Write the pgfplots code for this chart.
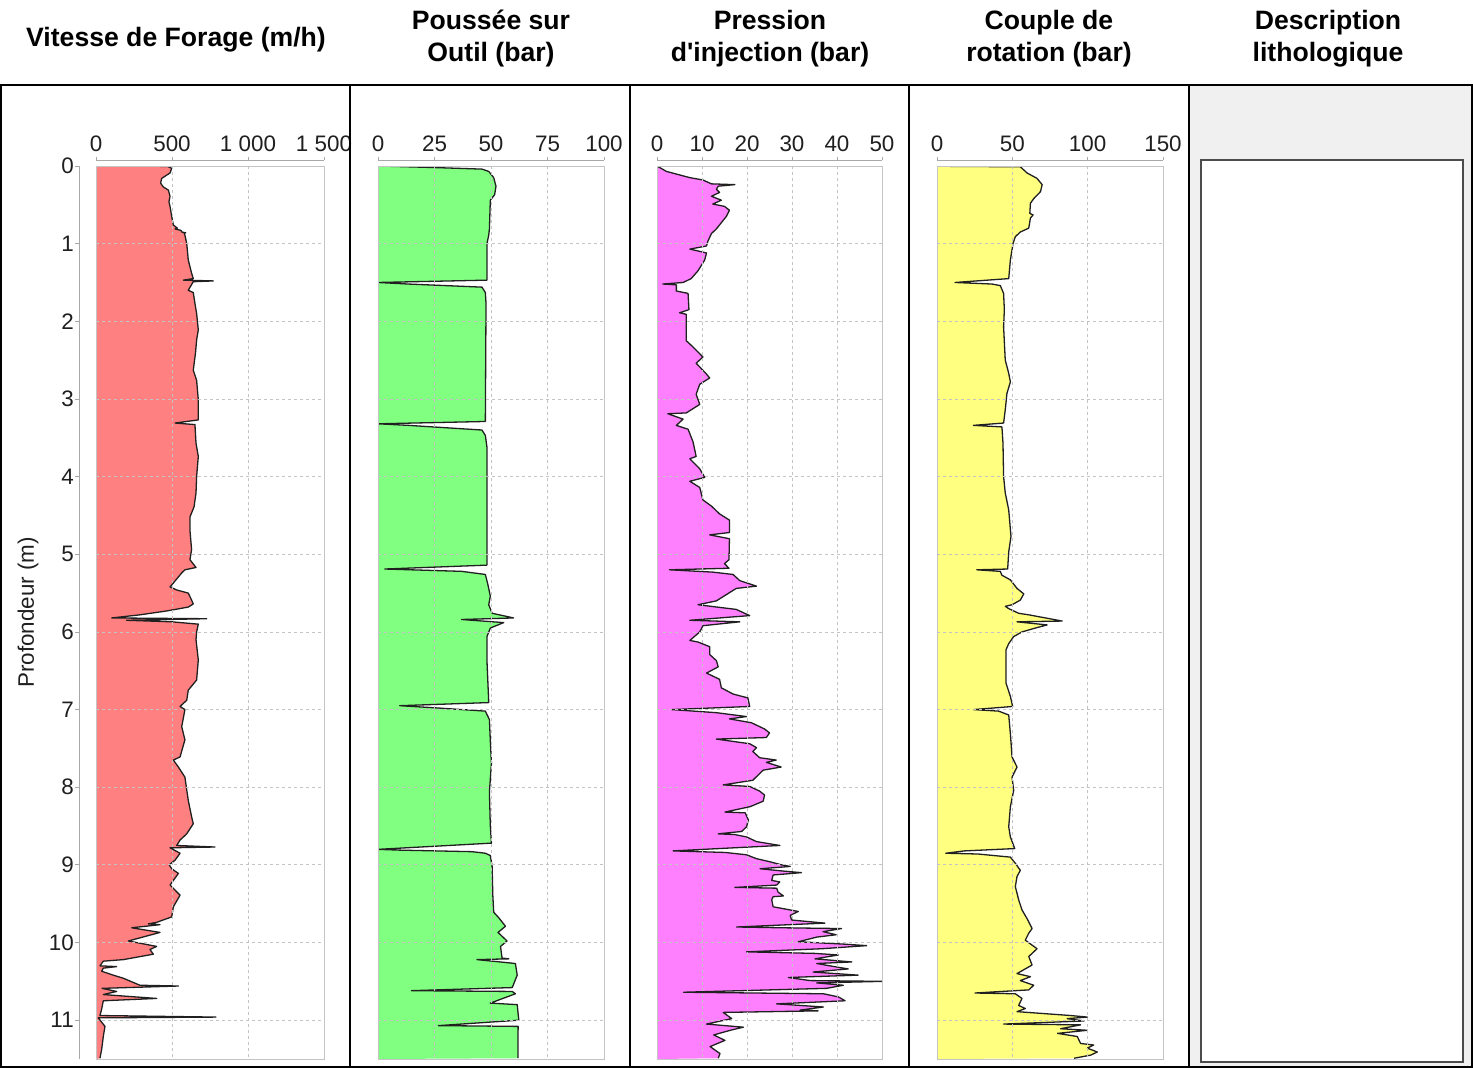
\documentclass[border=0pt]{standalone}
\usepackage{pgfplots}
\pgfplotsset{compat=1.18}
\usepackage{pgfplotstable}
\usepackage{fontspec}
\setmainfont{Liberation Sans}[Ligatures=TeXOff]

\definecolor{vitfill}{HTML}{FF8080}
\definecolor{pousfill}{HTML}{80FF80}
\definecolor{presfill}{HTML}{FF80FF}
\definecolor{coupfill}{HTML}{FFFF80}
\definecolor{gridgray}{HTML}{C4C4C4}
\definecolor{axisgray}{HTML}{A8A8A8}
\definecolor{panelgray}{HTML}{F0F0F0}
\definecolor{curvecol}{HTML}{202020}

\newcommand\titlefont{\fontsize{13.3}{16}\selectfont\bfseries}
\newcommand\ticklabelfont{\fontsize{11.2}{13.4}\selectfont}

% Vitesse de forage (m/h) versus profondeur (m)
\pgfplotstableread{
v d
0 0
470 0.005
476 0.01
498 0.03
487 0.09
432 0.16
425 0.22
443 0.27
476 0.31
487 0.39
480 0.46
487 0.52
498 0.65
509 0.76
535 0.80
520 0.81
560 0.83
564 0.85
590 0.86
580 0.87
585 0.89
597 1.0
607 1.21
629 1.38
640 1.45
575 1.47
772 1.48
640 1.49
607 1.60
640 1.63
651 1.77
662 1.90
673 2.11
662 2.24
655 2.40
640 2.63
662 2.76
673 3.01
673 3.27
520 3.31
651 3.33
658 3.57
673 3.74
662 4.0
658 4.21
645 4.39
618 4.52
618 4.69
629 4.94
618 5.07
658 5.17
585 5.20
564 5.24
509 5.37
487 5.42
531 5.46
607 5.50
629 5.59
640 5.64
607 5.68
465 5.73
289 5.78
103 5.82
728 5.83
200 5.85
500 5.87
673 5.90
662 6.0
658 6.1
673 6.36
662 6.62
607 6.75
597 6.88
553 6.96
585 7.0
564 7.22
585 7.39
553 7.61
509 7.65
542 7.74
585 7.87
607 8.17
629 8.38
640 8.47
597 8.60
553 8.68
531 8.75
783 8.77
487 8.78
553 8.85
520 8.94
482 9.0
498 9.05
542 9.11
487 9.26
553 9.39
509 9.54
498 9.67
399 9.74
344 9.76
421 9.77
235 9.81
421 9.87
213 9.98
399 10.05
355 10.09
377 10.15
180 10.22
48 10.24
26 10.30
136 10.31
48 10.33
37 10.37
114 10.42
180 10.46
289 10.55
542 10.56
40 10.59
136 10.63
48 10.67
399 10.72
48 10.75
37 10.86
26 10.94
789 10.96
15 10.97
59 11.08
48 11.21
37 11.38
26 11.49
}\vitesse

% Poussee sur outil (bar)
\pgfplotstableread{
v d
0 0
25 0.02
46 0.04
49 0.07
51.2 0.15
52.2 0.26
51.6 0.37
49.7 0.44
49.3 0.81
49.0 0.89
48.2 1.0
48.2 1.47
0 1.50
13.4 1.52
46 1.56
47.5 1.63
47.8 1.77
47.5 3.29
0 3.32
13.4 3.34
46 3.40
47.5 3.47
48.2 3.62
48.2 5.14
3 5.19
37 5.22
47.5 5.26
48.7 5.40
49.7 5.54
49 5.65
50.5 5.76
60 5.82
37 5.84
55.6 5.88
49.7 5.95
48.2 6.06
48.2 6.36
49 6.91
9.6 6.95
26.7 6.98
47.5 7.02
49.3 7.13
49.7 7.4
50.2 7.69
49.3 8.06
49.7 8.5
50.2 8.72
0 8.80
9.6 8.81
41.6 8.83
47.5 8.85
49.7 8.88
50.5 9.02
50.8 9.39
51.2 9.61
53.4 9.68
56.4 9.79
53.1 9.87
57.1 9.98
54.2 10.05
54.9 10.2
57.9 10.21
43.8 10.22
60.8 10.27
61.6 10.42
59.4 10.58
14.8 10.62
59.4 10.63
60.8 10.66
49.7 10.78
61.6 10.80
62.3 11.0
26.7 11.07
62.0 11.08
61.9 11.49
}\poussee

% Pression d'injection (bar)
\pgfplotstableread{
v d
0 0
2.1 0.07
7.3 0.15
10.2 0.18
12.1 0.23
17.3 0.24
13.6 0.26
13.2 0.30
13.9 0.34
12.1 0.39
14.3 0.44
12.4 0.49
15.0 0.52
16.1 0.57
15.4 0.65
14.3 0.73
13.2 0.81
12.1 0.87
11.3 0.97
11.0 1.03
7.3 1.07
11.0 1.12
10.6 1.21
9.1 1.35
7.6 1.45
5.8 1.50
1.3 1.52
4.3 1.53
4.3 1.61
6.9 1.64
7.1 1.85
5.0 1.89
6.5 1.91
6.5 2.25
8.0 2.33
10.2 2.46
8.7 2.54
11.0 2.68
11.7 2.73
9.5 2.81
8.7 2.94
9.5 3.07
6.5 3.18
2.4 3.19
5.8 3.26
4.3 3.34
6.9 3.39
8.0 3.55
8.7 3.74
7.3 3.77
9.5 3.90
10.6 4.01
7.3 4.06
9.5 4.14
10.2 4.30
12.1 4.38
13.9 4.48
16.1 4.56
16.1 4.72
11.7 4.75
16.1 4.80
16.0 5.07
15.0 5.12
16.0 5.18
2.8 5.20
12.4 5.23
16.9 5.26
18.4 5.34
22.1 5.41
17.6 5.44
15.4 5.52
13.2 5.60
9.1 5.65
17.6 5.71
20.6 5.79
16.1 5.81
7.3 5.85
18.4 5.87
10.2 5.92
9.5 6.00
7.3 6.11
9.1 6.13
11.7 6.19
11.7 6.29
13.2 6.37
13.6 6.45
11.0 6.53
13.9 6.61
14.3 6.72
16.9 6.80
20.2 6.85
20.6 6.96
3.2 7.00
13.2 7.04
19.9 7.09
16.1 7.12
21.0 7.17
23.9 7.25
25.0 7.30
24.3 7.36
13.2 7.38
20.6 7.44
22.1 7.49
21.3 7.54
22.8 7.62
26.5 7.65
24.3 7.68
27.6 7.74
23.6 7.78
21.3 7.91
14.7 7.97
20.6 7.99
22.8 8.05
23.9 8.10
23.6 8.18
20.7 8.25
15.1 8.32
19.6 8.33
20.3 8.42
19.9 8.51
18.8 8.57
13.6 8.60
17.3 8.61
19.9 8.64
22.1 8.70
27.3 8.75
3.6 8.82
15.1 8.84
19.9 8.87
22.1 8.92
25.1 8.96
27.7 9.00
29.6 9.02
22.9 9.05
28.1 9.08
32.1 9.10
25.8 9.13
25.5 9.20
27.3 9.22
26.6 9.26
17.3 9.29
26.6 9.30
26.9 9.35
28.1 9.40
25.8 9.41
25.5 9.45
25.8 9.54
27.7 9.56
31.4 9.60
29.6 9.65
29.9 9.71
37.3 9.75
17.7 9.80
27.7 9.81
41.0 9.82
36.9 9.86
39.8 9.90
35.5 9.93
31.4 9.99
41.4 10.02
46.6 10.04
36.6 10.08
19.9 10.12
35.1 10.14
40.3 10.16
35.1 10.21
39.2 10.23
43.3 10.25
35.5 10.27
38.4 10.30
42.5 10.34
34.7 10.38
44.7 10.42
29.2 10.45
34.0 10.49
50.3 10.50
35.5 10.52
41.4 10.55
37.7 10.59
5.9 10.64
37.0 10.66
40.3 10.70
41.8 10.75
26.6 10.79
37.0 10.83
31.8 10.87
35.8 10.88
14.7 10.90
16.6 10.98
11.0 11.05
19.2 11.09
16.3 11.13
12.6 11.19
15.1 11.26
11.8 11.34
14.0 11.43
13.6 11.49
}\pression

% Couple de rotation (bar)
\pgfplotstableread{
v d
0 0
9.8 0.005
55.3 0.01
59.8 0.09
66.4 0.16
69.8 0.24
68.7 0.33
64.2 0.42
62.0 0.48
61.6 0.61
63.8 0.63
62.0 0.67
60.9 0.80
55.3 0.85
52.0 0.91
50.4 1.0
49.8 1.08
48.7 1.21
47.6 1.45
12.0 1.50
36.4 1.52
42.0 1.54
44.2 1.64
44.7 1.85
44.2 2.07
45.3 2.50
47.6 2.67
48.7 2.78
46.4 2.93
45.3 3.14
44.2 3.31
24.2 3.34
43.1 3.36
43.8 3.57
44.2 4.0
45.3 4.21
47.6 4.43
49.1 4.77
47.6 4.97
46.9 5.19
26.4 5.20
42.0 5.22
43.1 5.27
48.7 5.33
53.1 5.44
57.6 5.51
55.3 5.59
49.8 5.65
45.3 5.67
47.6 5.70
54.2 5.76
60.9 5.78
83.1 5.86
53.1 5.87
73.1 5.91
65.3 5.95
56.4 6.00
50.9 6.06
47.6 6.15
45.8 6.23
45.8 6.66
48.7 6.83
50.2 6.96
24.2 7.00
40.9 7.02
47.6 7.07
48.7 7.31
49.8 7.61
53.1 7.74
49.8 7.87
50.9 8.04
48.7 8.25
47.6 8.51
48.7 8.64
51.6 8.79
18.2 8.82
5.8 8.85
27.1 8.86
48.7 8.90
52.0 8.98
55.3 9.07
53.1 9.15
52.0 9.28
54.2 9.45
56.4 9.58
60.0 9.70
63.1 9.82
60.9 9.88
58.6 9.97
66.4 10.08
60.9 10.18
63.1 10.29
57.6 10.35
53.1 10.40
62.0 10.44
55.3 10.49
64.2 10.55
60.9 10.61
25.3 10.65
52.0 10.66
56.4 10.72
54.2 10.81
58.6 10.85
53.1 10.89
88.7 10.94
99.8 10.96
86.4 10.98
97.6 11.01
44.2 11.05
95.3 11.06
82.0 11.11
99.8 11.13
80.0 11.17
93.1 11.21
95.3 11.30
104.0 11.32
99.8 11.36
106.4 11.41
102.0 11.45
91.0 11.49
}\couple

% Top scale line drawn slightly above each track
\newcommand\topscale[2]{%
  \draw[axisgray, line width=0.5pt] ([yshift=3pt]axis cs:0,0) -- ([yshift=3pt]axis cs:#1,0);
  \foreach \t in {#2} {\draw[axisgray, line width=0.4pt] ([yshift=3pt]axis cs:\t,0) -- ++(0,1.6pt);}
}

\pgfplotsset{
  track/.style={
    scale only axis, anchor=north west,
    height=446.5pt,
    ymin=0, ymax=11.5, y dir=reverse,
    ytick={0,...,11},
    axis line style={draw=gridgray, line width=0.5pt},
    grid=major,
    major grid style={draw=gridgray, line width=0.4pt, dash pattern=on 1.5pt off 1.5pt},
    major tick length=0pt,
    xticklabel pos=upper,
    tick label style={font=\ticklabelfont, text=black!88},
    xticklabel style={yshift=3.4pt},
    /pgf/number format/assume math mode=true,
    axis on top,
  },
  fillcurve/.style={draw=none, fill=#1},
  linecurve/.style={draw=curvecol, line width=0.65pt, line join=round},
}

\begin{document}
\begin{tikzpicture}
\begin{scope}[x=0.5pt,y=-0.5pt]
  \useasboundingbox (0,0) rectangle (1473,1068);
  \fill[panelgray] (1189,85) rectangle (1472,1067);
  \draw[black!70, line width=0.6pt, fill=white] (1201,160) rectangle (1463,1062);
  \node[font=\titlefont, align=center] at (176,40) {Vitesse de Forage (m/h)};
  \node[font=\titlefont, align=center] at (491,39) {Poussée sur\\Outil (bar)};
  \node[font=\titlefont, align=center] at (770,39) {Pression\\d'injection (bar)};
  \node[font=\titlefont, align=center] at (1049,39) {Couple de\\rotation (bar)};
  \node[font=\titlefont, align=center] at (1328,39) {Description\\lithologique};
\end{scope}

% Vitesse de forage
\begin{axis}[track, at={(48pt,-83pt)}, width=114pt,
  xmin=0, xmax=1500, xtick={0,500,1000,1500},
  xticklabels={0,500,1 000,1 500},
  yticklabel style={xshift=-7.6pt},
  ylabel={Profondeur (m)},
  every axis y label/.style={at={(rel axis cs:0,0.5)}, xshift=-34pt, rotate=90, anchor=center, font=\ticklabelfont, text=black!88},
  after end axis/.code={%
    \topscale{1500}{0,500,1000,1500}%
    \draw[axisgray, line width=0.5pt] ([xshift=-8.5pt]axis cs:0,0) -- ([xshift=-8.5pt]axis cs:0,11.5);
    \foreach \k in {0,...,11} {\draw[axisgray, line width=0.4pt] ([xshift=-8.5pt]axis cs:0,\k) -- ++(-1.8pt,0);}
  }]
  \addplot[fillcurve=vitfill] table[x=v,y=d] {\vitesse} -- (axis cs:0,11.5) -- cycle;
  \addplot[linecurve] table[x=v,y=d] {\vitesse};
\end{axis}

% Poussee sur outil
\begin{axis}[track, at={(189pt,-83pt)}, width=113pt,
  xmin=0, xmax=100, xtick={0,25,50,75,100},
  yticklabels={},
  after end axis/.code={\topscale{100}{0,25,50,75,100}}]
  \addplot[fillcurve=pousfill] table[x=v,y=d] {\poussee} -- (axis cs:0,11.5) -- cycle;
  \addplot[linecurve] table[x=v,y=d] {\poussee};
\end{axis}

% Pression d'injection
\begin{axis}[track, at={(328.5pt,-83pt)}, width=112.5pt,
  xmin=0, xmax=50, xtick={0,10,20,30,40,50},
  yticklabels={},
  after end axis/.code={\topscale{50}{0,10,20,30,40,50}}]
  \addplot[fillcurve=presfill] table[x=v,y=d] {\pression} -- (axis cs:0,11.5) -- cycle;
  \addplot[linecurve] table[x=v,y=d] {\pression};
\end{axis}

% Couple de rotation
\begin{axis}[track, at={(468.5pt,-83pt)}, width=113pt,
  xmin=0, xmax=150, xtick={0,50,100,150},
  yticklabels={},
  after end axis/.code={\topscale{150}{0,50,100,150}}]
  \addplot[fillcurve=coupfill] table[x=v,y=d] {\couple} -- (axis cs:0,11.5) -- cycle;
  \addplot[linecurve] table[x=v,y=d] {\couple};
\end{axis}

% Track frames
\begin{scope}[x=0.5pt,y=-0.5pt]
  \draw[black, line width=1pt] (1,85) rectangle (1472,1067);
  \foreach \xx in {350,630,909,1189} {\draw[black, line width=1pt] (\xx,85) -- (\xx,1067);}
\end{scope}
\end{tikzpicture}
\end{document}
